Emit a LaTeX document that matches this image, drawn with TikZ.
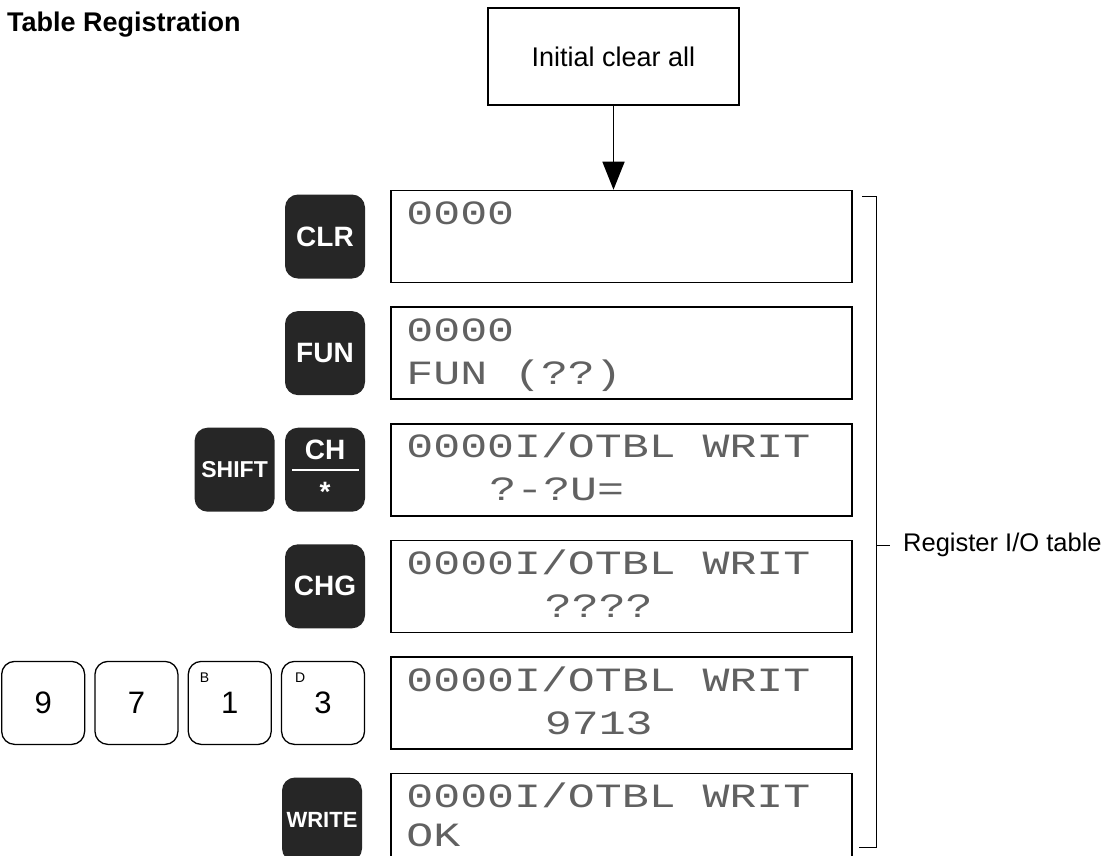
\documentclass[tikz,border=0pt]{standalone}
\usepackage{fontspec}
\setmainfont{Liberation Sans}
\newfontfamily\lcdfont[FakeStretch=1.32]{Liberation Mono}
\usetikzlibrary{arrows.meta, positioning}

\begin{document}
\begin{tikzpicture}[
    x=1pt, y=-1pt,
    node distance=23pt and 25pt,
    box/.style={draw, line width=1.6pt, minimum width=251pt, minimum height=97pt, font=\fontsize{27}{32}\selectfont},
    disp/.style={draw, line width=1.6pt, minimum width=461pt, minimum height=92pt},
    lcd/.style={anchor=base west, inner sep=0pt, text=black!62, font=\lcdfont\fontsize{34}{38}\selectfont},
    fkey/.style={fill=black!85, rounded corners=13pt, minimum width=80pt, minimum height=84pt, inner sep=0pt, text=white, font=\bfseries\fontsize{28}{30}\selectfont},
    nkey/.style={draw, line width=1.3pt, rounded corners=13pt, minimum width=83pt, minimum height=83pt, inner sep=0pt, font=\fontsize{31}{33}\selectfont},
    sub/.style={anchor=north west, inner sep=0pt, font=\fontsize{14}{14}\selectfont},
    arrow/.style={-{Triangle[length=28pt, width=22pt]}, line width=1.6pt}
]
    \clip (0,0) rectangle (1110,855);
    \node[anchor=base west, inner sep=0pt, font=\bfseries\fontsize{27}{32}\selectfont] (title) at (7,31) {Table Registration};
    \node[box] (init) at (613.5,56.5) {Initial clear all};

    \node[disp] (d1) at (621.5,236.5) {};
    \node[disp, below=of d1] (d2) {};
    \node[disp, below=of d2] (d3) {};
    \node[disp, below=of d3] (d4) {};
    \node[disp, below=of d4] (d5) {};
    \node[disp, below=of d5] (d6) {};

    \draw[arrow] (init.south) -- (init.south |- d1.north);

    \node[lcd] (l1a) at ([xshift=16pt, yshift=-35pt]d1.north west) {0000};
    \node[lcd] (l2a) at ([xshift=16pt, yshift=-35pt]d2.north west) {0000};
    \node[lcd] (l2b) at ([xshift=16pt, yshift=-78pt]d2.north west) {FUN (??)};
    \node[lcd] (l3a) at ([xshift=16pt, yshift=-35pt]d3.north west) {0000I/OTBL WRIT};
    \node[lcd] (l3b) at ([xshift=99pt, yshift=-78pt]d3.north west) {?-?U=};
    \node[lcd] (l4a) at ([xshift=16pt, yshift=-35pt]d4.north west) {0000I/OTBL WRIT};
    \node[lcd] (l4b) at ([xshift=154.5pt, yshift=-78pt]d4.north west) {????};
    \node[lcd] (l5a) at ([xshift=16pt, yshift=-35pt]d5.north west) {0000I/OTBL WRIT};
    \node[lcd] (l5b) at ([xshift=154.5pt, yshift=-78pt]d5.north west) {9713};
    \node[lcd] (l6a) at ([xshift=16pt, yshift=-35pt]d6.north west) {0000I/OTBL WRIT};
    \node[lcd] (l6b) at ([xshift=16pt, yshift=-74pt]d6.north west) {OK};

    \node[fkey, left=of d1] (clr) {CLR};
    \node[fkey, left=of d2] (fun) {FUN};
    \node[fkey, left=of d3] (ch) {};
    \node[fkey, left=10pt of ch, font=\bfseries\fontsize{23}{25}\selectfont] (shift) {SHIFT};
    \node[fkey, left=of d4] (chg) {CHG};
    \node[fkey, left=28pt of d6, font=\bfseries\fontsize{22}{24}\selectfont] (write) {WRITE};

    \node[anchor=base, inner sep=0pt, text=white, font=\bfseries\fontsize{28}{30}\selectfont] (chtop) at ([yshift=10pt]ch.center) {CH};
    \draw[white, line width=2pt] ([xshift=-33pt]ch.center) -- ([xshift=34pt]ch.center);
    \node[inner sep=0pt, text=white, font=\bfseries\fontsize{28}{30}\selectfont] (chbot) at ([yshift=-22pt]ch.center) {*};

    \node[nkey, left=of d5] (k3) {3};
    \node[nkey, left=9pt of k3] (k1) {1};
    \node[nkey, left=9pt of k1] (k7) {7};
    \node[nkey, left=9pt of k7] (k9) {9};
    \node[sub] (kb) at ([xshift=12pt, yshift=-12pt]k1.north west) {B};
    \node[sub] (kd) at ([xshift=14pt, yshift=-12pt]k3.north west) {D};

    \coordinate (bt) at (876,196);
    \coordinate (bb) at (876,847);
    \draw[line width=0.9pt] (862,196) -- (bt) -- (bb) -- (859,847);
    \node[anchor=west, inner sep=0pt, font=\fontsize{25.5}{30}\selectfont] (reg) at (903,545) {Register I/O table};
    \draw[line width=0.9pt] (bt |- reg.west) -- ([xshift=-13pt]reg.west);
\end{tikzpicture}
\end{document}
